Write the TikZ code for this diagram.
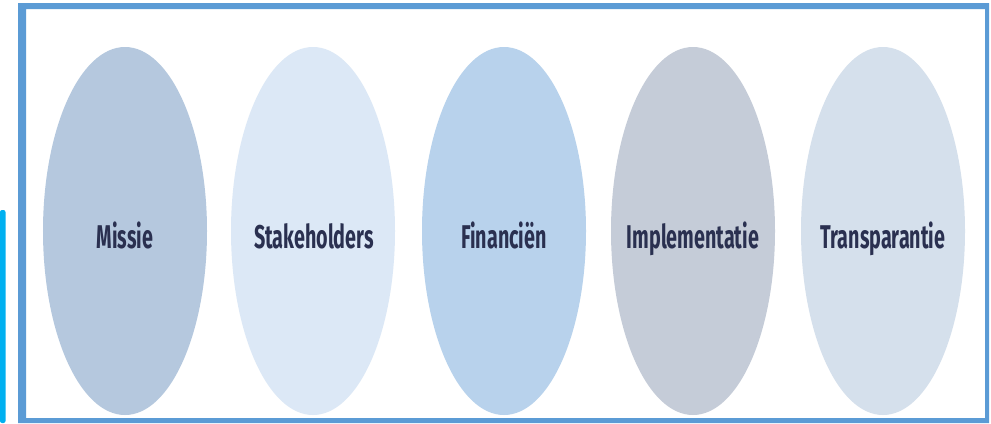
\documentclass[tikz,border=0pt]{standalone}
\usepackage{fontspec}
\usetikzlibrary{shapes.geometric}
\newfontfamily\labelfont{Fira Sans}[FakeStretch=0.6]
\definecolor{frameblue}{HTML}{5B9BD5}
\definecolor{barcyan}{HTML}{00B0F0}
\definecolor{cMissie}{HTML}{B5C8DE}
\definecolor{cStake}{HTML}{DCE8F6}
\definecolor{cFin}{HTML}{B8D2EC}
\definecolor{cImpl}{HTML}{C5CCD8}
\definecolor{cTrans}{HTML}{D5E0EC}
\definecolor{txtnavy}{HTML}{2A3050}
\tikzset{
  pillar/.style={ellipse, draw=none, minimum width=164bp, minimum height=368bp, inner sep=0pt},
  pillartext/.style={anchor=base, text=txtnavy, font=\labelfont\bfseries\fontsize{33}{36}\selectfont, inner sep=0pt}
}
\begin{document}
\begin{tikzpicture}[x=1bp,y=-1bp]
\useasboundingbox (0,0) rectangle (991,423);
\fill[white] (0,0) rectangle (991,423);
% cyan bar at left
\fill[barcyan, rounded corners=2bp] (0,210) rectangle (5.5,423);
% frame
\fill[frameblue, even odd rule] (18,3) rectangle (989,423) (26,9) rectangle (985,418);
% ellipses
\node[pillar, fill=cMissie] (e1) at (125,231) {};
\node[pillar, fill=cStake] (e2) at (313,231) {};
\node[pillar, fill=cFin] (e3) at (504,231) {};
\node[pillar, fill=cImpl] (e4) at (693,231) {};
\node[pillar, fill=cTrans] (e5) at (883,231) {};
% labels
\node[pillartext] (t1) at (125,248) {Missie};
\node[pillartext] (t2) at (314,248) {Stakeholders};
\node[pillartext] (t3) at (504,248) {Financiën};
\node[pillartext] (t4) at (693,248) {Implementatie};
\node[pillartext] (t5) at (883,248) {Transparantie};
\end{tikzpicture}
\end{document}
